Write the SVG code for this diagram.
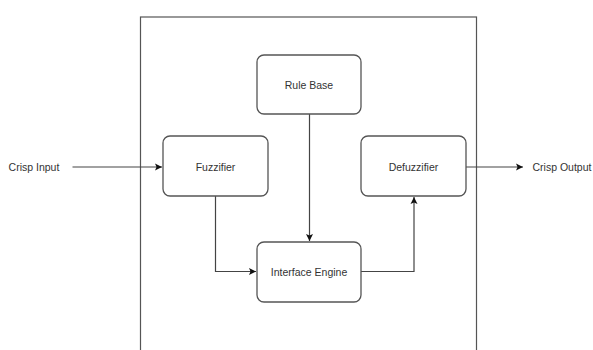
<svg xmlns="http://www.w3.org/2000/svg" width="593" height="350" viewBox="0 0 593 350">
<style>
.box{fill:#fff;stroke:#555;stroke-width:1.3}
.lbl{font-family:"Liberation Sans",Arial,sans-serif;font-size:10.5px;fill:#333;text-anchor:middle;dominant-baseline:central}
.con{fill:none;stroke:#444;stroke-width:1.2}
</style>
<defs>
<marker id="ah" markerWidth="8" markerHeight="8" refX="7" refY="4" orient="auto" markerUnits="userSpaceOnUse">
<path d="M0,0.5 L7,4 L0,7.5 L1.5,4 Z" fill="#111"/>
</marker>
</defs>
<rect width="593" height="350" fill="#fff"/>
<g id="system"><rect x="140.5" y="17" width="336" height="340" fill="none" stroke="#555" stroke-width="1.2"/></g>
<g id="connectors">
<path class="con" d="M72.5,167 H162" marker-end="url(#ah)"/>
<path class="con" d="M466,167 H523" marker-end="url(#ah)"/>
<path class="con" d="M215.5,196 V271.5 H256" marker-end="url(#ah)"/>
<path class="con" d="M309.5,114 V241" marker-end="url(#ah)"/>
<path class="con" d="M361,271.5 H414 V197" marker-end="url(#ah)"/>
</g>
<g id="rulebase"><rect class="box" x="257" y="55" width="104" height="59" rx="7"/><text class="lbl" x="309" y="85">Rule Base</text></g>
<g id="fuzzifier"><rect class="box" x="163" y="136" width="105" height="60" rx="7"/><text class="lbl" x="215.5" y="167">Fuzzifier</text></g>
<g id="defuzzifier"><rect class="box" x="361" y="136" width="105" height="60" rx="7"/><text class="lbl" x="413.5" y="167">Defuzzifier</text></g>
<g id="engine"><rect class="box" x="257" y="242" width="104" height="60" rx="7"/><text class="lbl" x="309" y="272">Interface Engine</text></g>
<g id="input"><text class="lbl" x="34" y="167">Crisp Input</text></g>
<g id="output"><text class="lbl" x="562" y="167">Crisp Output</text></g>
</svg>
